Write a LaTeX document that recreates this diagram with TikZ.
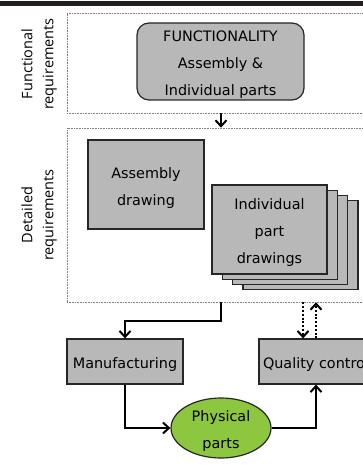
\documentclass[tikz,border=0pt]{standalone}
\usepackage{fontspec}
\setmainfont{DejaVu Sans}
\newfontfamily\sidefont{Open Sans}
\usetikzlibrary{shapes.geometric,arrows.meta}

\definecolor{boxgray}{RGB}{184,184,184}
\definecolor{partgreen}{RGB}{141,198,63}
\definecolor{bardark}{RGB}{35,31,32}

\tikzset{
  frame/.style={draw=gray,densely dotted,line width=0.6pt},
  block/.style={draw=black!85,fill=boxgray,line width=1.2pt,inner sep=0pt,
    label={[boxtext]center:{#1}}},
  block/.default={},
  boxtext/.style={align=center,inner sep=0pt,yshift=-3.5pt,
    font=\fontsize{14.4}{27}\selectfont},
  side/.style={rotate=90,align=center,font=\sidefont\fontsize{14.5}{21}\selectfont},
  flow/.style={line width=2pt,-{Straight Barb[length=6pt,width=11pt]}},
  check/.style={flow,dash pattern=on 2pt off 1.8pt}
}

\begin{document}
\begin{tikzpicture}[x=1pt,y=-1pt]

\clip (0,0) rectangle (363,470);
\fill[bardark] (0,1) rectangle (363,6);

\node[frame,minimum width=308pt,minimum height=100pt] (funcframe) at (221,63) {};
\node[frame,minimum width=308pt,minimum height=174pt] (detframe) at (221,215) {};

\node[side] (funclabel) at (39,64) {Functional\\requirements};
\node[side] (detlabel) at (39,215) {Detailed\\requirements};

\node[block={FUNCTIONALITY\\Assembly \&\\Individual parts},rounded corners=12pt,
  minimum width=167pt,minimum height=77pt,
  every label/.append style={yshift=-1.5pt,font=\fontsize{14.4}{25.5}\selectfont}]
  (functionality) at (220.5,61.5) {};

\node[block={Assembly\\drawing},minimum width=116pt,minimum height=89pt] (assembly) at (146,184.5) {};

\foreach \k in {3,2,1}
  \node[block,minimum width=115pt,minimum height=89pt] (sheet\k) at (269.5+10.3*\k,229.5+5.2*\k) {};
\node[block={Individual\\part\\drawings},minimum width=115pt,minimum height=89pt] (partdrawings) at (269.5,229.5) {};

\node[block=Manufacturing,minimum width=116pt,minimum height=45pt] (manufacturing) at (125,361.5) {};
\node[block=Quality control,minimum width=114pt,minimum height=45pt] (quality) at (316,361.5) {};
\node[block={Physical\\parts},ellipse,fill=partgreen,minimum width=100pt,minimum height=60pt,
  every label/.append style={font=\fontsize{14.4}{26}\selectfont}] (physical) at (221,428) {};

\draw[flow] (funcframe.south) -- (detframe.north);
\draw[flow] (detframe.south) -- ++(0,19) -| (manufacturing.north);
\draw[flow] (manufacturing.south) |- (physical.west);
\draw[flow] (physical.east) -| (quality.south);

\coordinate (checkdown) at ([xshift=-13pt]quality.north);
\draw[check] (checkdown |- detframe.south) -- (checkdown);
\draw[check] (quality.north) -- (quality.north |- detframe.south);

\end{tikzpicture}
\end{document}
